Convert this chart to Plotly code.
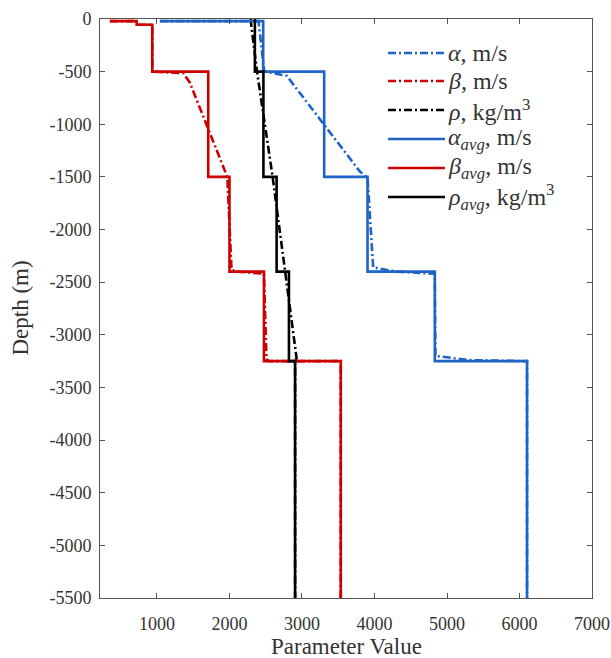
import plotly.graph_objects as go

# ---- data (depth in m, values) ----
alpha_z   = [-20, -20, -500, -500, -540, -1450, -1510, -2360, -2400, -2420, -3200, -3240, -3250, -5500]
alpha_v   = [1040, 2400, 2480, 2500, 2790, 3800, 3904, 3982, 4300, 4832, 4840, 5300, 6104, 6104]
beta_z    = [-20, -20, -55, -55, -500, -515, -600, -1450, -1500, -2383, -2400, -2420, -3230, -3250, -3250, -5500]
beta_v    = [350, 720, 720, 935, 935, 1362, 1450, 1951, 1970, 2028, 2100, 2475, 2510, 2540, 3535, 3535]
rho_z     = [0, -500, -1500, -2400, -3220, -3250, -5500]
rho_v     = [2290, 2380, 2595, 2770, 2925, 2905, 2905]

alpha_avg_z = [-20, -20, -500, -500, -1500, -1500, -2400, -2400, -3250, -3250, -5500]
alpha_avg_v = [1040, 2465, 2465, 3306, 3306, 3904, 3904, 4832, 4832, 6104, 6104]
beta_avg_z  = [-20, -20, -55, -55, -500, -500, -1500, -1500, -2400, -2400, -3250, -3250, -5500]
beta_avg_v  = [350, 720, 720, 935, 935, 1707, 1707, 2000, 2000, 2475, 2475, 3535, 3535]
rho_avg_z   = [0, -500, -500, -1500, -1500, -2400, -2400, -3250, -3250, -5500]
rho_avg_v   = [2350, 2350, 2468, 2468, 2650, 2650, 2820, 2820, 2905, 2905]

x_ticks = [1000, 2000, 3000, 4000, 5000, 6000, 7000]
y_ticks = list(range(0, -5501, -500))

legend_labels = ["<i>α</i>, m/s", "<i>β</i>, m/s", "<i>ρ</i>, kg/m<sup>3</sup>",
                 "<i>α<sub>avg</sub></i>, m/s", "<i>β<sub>avg</sub></i>, m/s",
                 "<i>ρ<sub>avg</sub></i>, kg/m<sup>3</sup>"]

BLUE = "#1f63c6"
RED = "#cc0000"
BLACK = "#000000"
DASH = "8px,3px,2px,3px"
LW = 2.6
FONT = "Liberation Serif"
TXT = "#333333"

W, H = 611, 658
ML, MR, MT, MB = 100, 19, 19, 60
PW, PH = W - ML - MR, H - MT - MB

def px2paper_x(px):
    return (px - ML) / PW

def px2paper_y(py):
    return 1 - (py - MT) / PH

series = [
    (alpha_v, alpha_z, BLUE, DASH),
    (beta_v, beta_z, RED, DASH),
    (rho_v, rho_z, BLACK, DASH),
    (alpha_avg_v, alpha_avg_z, BLUE, "solid"),
    (beta_avg_v, beta_avg_z, RED, "solid"),
    (rho_avg_v, rho_avg_z, BLACK, "solid"),
]

fig = go.Figure()
for (xv, zv, col, dash), name in zip(series, legend_labels):
    fig.add_trace(go.Scatter(x=xv, y=zv, mode="lines", name=name, showlegend=False,
                             line=dict(color=col, width=LW, dash=dash)))

# custom legend (symbols + labels) in paper coordinates
shapes, annotations = [], []
leg_rows = [53, 81, 110, 139, 168, 197]
for (xv, zv, col, dash), name, py in zip(series, legend_labels, leg_rows):
    shapes.append(dict(type="line", xref="paper", yref="paper",
                       x0=px2paper_x(388), x1=px2paper_x(445),
                       y0=px2paper_y(py), y1=px2paper_y(py),
                       line=dict(color=col, width=LW, dash=dash)))
    annotations.append(dict(text=name, xref="paper", yref="paper",
                            x=px2paper_x(446), y=px2paper_y(py), xanchor="left", yanchor="middle",
                            showarrow=False, font=dict(family=FONT, size=24, color=TXT)))

annotations += [
    dict(text="Parameter Value", xref="paper", yref="paper", x=0.5, y=0,
         xanchor="center", yanchor="middle", yshift=-48, showarrow=False,
         font=dict(family=FONT, size=23, color=TXT)),
    dict(text="Depth (m)", xref="paper", yref="paper", x=0, y=0.5, xshift=-80,
         xanchor="center", yanchor="middle", textangle=-90, showarrow=False,
         font=dict(family=FONT, size=23, color=TXT)),
]

axis_common = dict(showline=True, linecolor="#555555", linewidth=1, mirror="ticks",
                   ticks="inside", ticklen=5, tickcolor="#555555", showgrid=False,
                   zeroline=False, automargin=False, ticklabeloverflow="allow",
                   tickfont=dict(family=FONT, size=18, color=TXT))

fig.update_layout(
    width=W, height=H,
    margin=dict(l=ML, r=MR, t=MT, b=MB, autoexpand=False),
    paper_bgcolor="white", plot_bgcolor="white",
    font=dict(family=FONT, color=TXT),
    xaxis=dict(range=[214, 7000], tickvals=x_ticks, ticktext=[str(v) for v in x_ticks],
               ticklabelstandoff=9, **axis_common),
    yaxis=dict(range=[-5500, 0], tickvals=y_ticks, ticktext=[str(v) for v in y_ticks],
               ticklabelstandoff=4, **axis_common),
    showlegend=False,
    shapes=shapes,
    annotations=annotations,
)

fig.write_html("out.html")
